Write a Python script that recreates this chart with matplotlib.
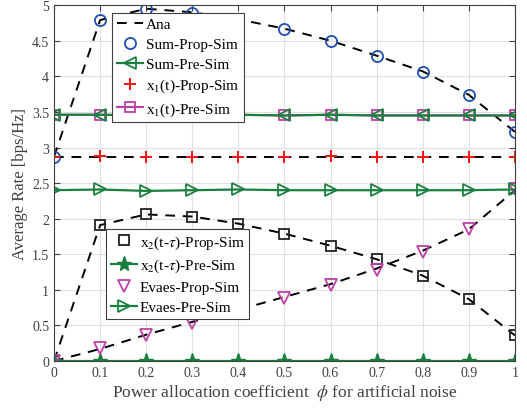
import matplotlib
matplotlib.use("Agg")
import matplotlib.pyplot as plt
import numpy as np

phi = [0, 0.1, 0.2, 0.3, 0.4, 0.5, 0.6, 0.7, 0.8, 0.9, 1.0]

sum_ana = [2.87, 4.79, 4.95, 4.90, 4.80, 4.67, 4.50, 4.29, 4.07, 3.74, 3.22]
sum_prop = [2.87, 4.79, 4.94, 4.89, 4.79, 4.66, 4.49, 4.28, 4.06, 3.74, 3.22]
sum_pre = [3.46, 3.46, 3.45, 3.45, 3.46, 3.45, 3.46, 3.45, 3.45, 3.45, 3.45]
x1_ana = [2.87, 2.87, 2.87, 2.87, 2.87, 2.87, 2.87, 2.87, 2.87, 2.87, 2.87]
x1_prop = [2.87, 2.88, 2.87, 2.87, 2.87, 2.87, 2.88, 2.87, 2.87, 2.87, 2.87]
x1_pre = [3.46, 3.46, 3.45, 3.45, 3.46, 3.45, 3.46, 3.45, 3.45, 3.45, 3.45]
x2_ana = [0.0, 1.91, 2.06, 2.03, 1.93, 1.79, 1.62, 1.43, 1.20, 0.87, 0.36]
x2_prop = [0.0, 1.91, 2.06, 2.03, 1.92, 1.79, 1.62, 1.43, 1.20, 0.87, 0.36]
x2_pre = [0, 0, 0, 0, 0, 0, 0, 0, 0, 0, 0]
ev_ana = [0.0, 0.17, 0.37, 0.55, 0.72, 0.90, 1.08, 1.30, 1.55, 1.85, 2.40]
ev_prop = [0.0, 0.18, 0.37, 0.53, 0.72, 0.88, 1.07, 1.28, 1.53, 1.86, 2.42]
ev_pre = [2.40, 2.41, 2.39, 2.40, 2.41, 2.40, 2.40, 2.40, 2.40, 2.40, 2.41]

plt.rcParams['font.family'] = ['Liberation Serif', 'DejaVu Serif']
plt.rcParams['mathtext.fontset'] = 'stix'

fig = plt.figure(figsize=(5.27, 4.10), dpi=100)
ax = fig.add_axes([0.1025, 0.117, 0.8745, 0.868])

blue = '#1f4fb0'
green = '#1a8040'
mag = '#c040a8'
red = '#ff1010'

ana_kw = dict(color='black', linestyle=(0, (5, 4)), linewidth=1.4)
h_ana, = ax.plot(phi, sum_ana, **ana_kw)
ax.plot(phi, x1_ana, **ana_kw)
ax.plot(phi, x2_ana, **ana_kw)
ax.plot(phi, ev_ana, **ana_kw)

h_x1pre, = ax.plot(phi, x1_pre, color=mag, marker='s', markersize=7, markerfacecolor='none', markeredgewidth=1.3, linewidth=1.5)
h_sumprop, = ax.plot(phi, sum_prop, linestyle='none', marker='o', markersize=8, markerfacecolor='none', markeredgecolor=blue, markeredgewidth=1.3)
h_sumpre, = ax.plot(phi, sum_pre, color=green, marker='<', markersize=9, markerfacecolor='none', markeredgewidth=1.3, linewidth=1.6)
h_x1prop, = ax.plot(phi, x1_prop, linestyle='none', marker='+', markersize=9, markeredgecolor=red, markeredgewidth=1.4)

h_x2prop, = ax.plot(phi, x2_prop, linestyle='none', marker='s', markersize=7, markerfacecolor='none', markeredgecolor='#222222', markeredgewidth=1.3)
h_x2pre, = ax.plot(phi, x2_pre, color=green, marker='*', markersize=11, markerfacecolor=green, linewidth=1.6)
h_evprop, = ax.plot(phi, ev_prop, linestyle='none', marker='v', markersize=9, markerfacecolor='none', markeredgecolor=mag, markeredgewidth=1.3)
h_evpre, = ax.plot(phi, ev_pre, color=green, marker='>', markersize=9, markerfacecolor='none', markeredgewidth=1.3, linewidth=1.6)

ax.set_xlim(0, 1)
ax.set_ylim(0, 5)
ax.set_xticks(np.arange(0, 1.01, 0.1))
ax.set_xticklabels(['0', '0.1', '0.2', '0.3', '0.4', '0.5', '0.6', '0.7', '0.8', '0.9', '1'])
ax.set_yticks(np.arange(0, 5.01, 0.5))
ax.set_yticklabels(['0', '0.5', '1', '1.5', '2', '2.5', '3', '3.5', '4', '4.5', '5'])
ax.tick_params(direction='in', labelsize=10, labelcolor='#404040', color='#404040', length=4, top=True, right=True)
ax.grid(True, color='#e0e0e0', linewidth=0.8)
ax.set_axisbelow(True)
for s in ax.spines.values():
    s.set_color('#404040')

ax.set_xlabel(r'Power allocation coefficient  $\phi$ for artificial noise', fontsize=12.5, color='#404040', labelpad=2)
ax.set_ylabel('Average Rate [bps/Hz]', fontsize=12, color='#404040', labelpad=3)

leg_kw = dict(loc='upper left', fontsize=11, fancybox=False, edgecolor='#404040', framealpha=1,
              borderpad=0.3, labelspacing=0.4, handlelength=1.7, handletextpad=0.2, borderaxespad=0)
leg1 = ax.legend([h_ana, h_sumprop, h_sumpre, h_x1prop, h_x1pre],
                 ['Ana', 'Sum-Prop-Sim', 'Sum-Pre-Sim', r'x$_1$(t)-Prop-Sim', r'x$_1$(t)-Pre-Sim'],
                 bbox_to_anchor=(0.126, 0.978), **leg_kw)
leg1.get_frame().set_linewidth(0.8)
ax.add_artist(leg1)
leg2 = ax.legend([h_x2prop, h_x2pre, h_evprop, h_evpre],
                 [r'x$_2$(t-$\tau$)-Prop-Sim', r'x$_2$(t-$\tau$)-Pre-Sim', 'Evaes-Prop-Sim', 'Evaes-Pre-Sim'],
                 bbox_to_anchor=(0.113, 0.371), **leg_kw)
leg2.get_frame().set_linewidth(0.8)

fig.savefig('out.png', dpi=100)
